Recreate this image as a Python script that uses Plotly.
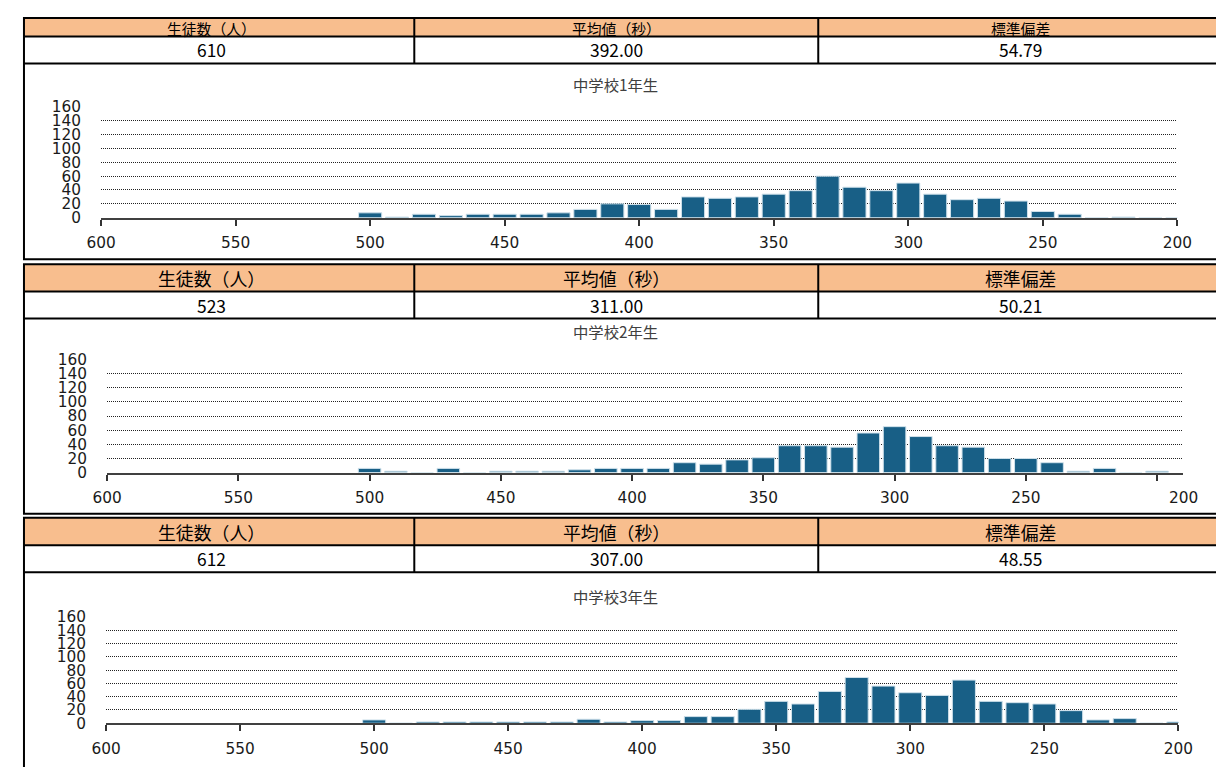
import plotly.graph_objects as go

W, H = 1224, 767
# the photographed page shows the figure slightly scaled and offset; positions below are
# measured on the reference picture and mapped back into figure pixels
S = 0.978
BX, BY = 20.7, 16.0

# ---------------- data ----------------
bins = [500, 490, 480, 470, 460, 450, 440, 430, 420, 410, 400, 390, 380, 370, 360,
        350, 340, 330, 320, 310, 300, 290, 280, 270, 260, 250, 240, 230, 220, 210, 200]
grade1 = [7, 1, 5, 3, 5, 5, 5, 7, 12, 20, 19, 12, 30, 28, 30,
          34, 39, 60, 44, 39, 50, 34, 26, 28, 24, 9, 5, 0, 1, 0, 0]
grade2 = [6, 2, 0, 6, 0, 2, 2, 2, 4, 6, 6, 6, 14, 12, 18,
          21, 38, 38, 36, 56, 65, 51, 38, 36, 20, 20, 14, 2, 6, 0, 2]
grade3 = [5, 0, 2, 2, 2, 2, 2, 2, 6, 2, 4, 4, 10, 10, 21,
          33, 29, 48, 69, 56, 46, 42, 65, 33, 31, 29, 19, 5, 7, 0, 2]
titles = ["中学校1年生", "中学校2年生", "中学校3年生"]
header_labels = ["生徒数（人）", "平均値（秒）", "標準偏差"]
students = ["610", "523", "612"]
means = ["392.00", "311.00", "307.00"]
stdevs = ["54.79", "50.21", "48.55"]
x_ticks = [600, 550, 500, 450, 400, 350, 300, 250, 200]
y_ticks = [0, 20, 40, 60, 80, 100, 120, 140, 160]

series = [grade1, grade2, grade3]

# ---------------- geometry (reference pixels) ----------------
panels = [
    dict(top=8.5, hdr=35.5, val=62.5, bottom=258.5, px0=99, px1=1178, y0=217, y160=106, xr=[600, 200],
         title_y=83, hdr_text=27.5, hdr_size=14.5),
    dict(top=263.5, hdr=291, val=318, bottom=513.5, px0=105, px1=1184, y0=472.3, y160=359, xr=[600, 190],
         title_y=330, hdr_text=277.5, hdr_size=17.5),
    dict(top=517.5, hdr=545, val=572, bottom=800, px0=104, px1=1179, y0=723.3, y160=617, xr=[600, 200],
         title_y=596, hdr_text=531.5, hdr_size=17.5),
]
col_x = [7.5, 413, 818, 1240]
col_c = [210, 615.5, 1021]

BAR = "#185F86"
HDR_FILL = "#F8BE8E"
FS = 1 / S
TICKFONT = dict(family="DejaVu Sans", size=15 * FS, color="#1a1a1a")
CJK = "Noto Sans CJK JP"


def fx(x):
    f = (x - BX) / S
    return max(f, 1.0) / W


def fy(y):
    f = (y - BY) / S
    return 1 - max(f, 1.0) / H


fig = go.Figure()
shapes = []
annotations = []

for i, (p, vals) in enumerate(zip(panels, series)):
    n = "" if i == 0 else str(i + 1)
    fig.add_trace(go.Bar(
        x=bins, y=vals, xaxis="x" + n, yaxis="y" + n,
        marker=dict(color=BAR, line=dict(color="#CFE1EB", width=1)),
        showlegend=False, hoverinfo="x+y",
    ))
    tt = [str(v) for v in x_ticks]
    if p["xr"][1] == 190:
        tt = tt[:-1] + [""]
        annotations.append(dict(x=190, y=0, xref="x" + n, yref="y" + n, text="200",
                                showarrow=False, yanchor="top", xanchor="center",
                                yshift=-14, font=TICKFONT))
    fig.layout["xaxis" + n] = dict(
        domain=[fx(p["px0"]), fx(p["px1"])], range=p["xr"], anchor="y" + n,
        tickmode="array", tickvals=x_ticks, ticktext=tt,
        ticks="outside", ticklen=6, tickwidth=1.5, tickcolor="#333",
        showline=True, linecolor="#404040", linewidth=2,
        showgrid=False, zeroline=False, tickfont=TICKFONT,
        ticklabelstandoff=4, fixedrange=True,
    )
    fig.layout["yaxis" + n] = dict(
        domain=[fy(p["y0"]), fy(p["y160"])], range=[0, 160], anchor="x" + n,
        tickmode="array", tickvals=y_ticks,
        showgrid=True, gridcolor="#222", gridwidth=1, griddash="1px,1px",
        showline=False, zeroline=False, ticks="", tickfont=TICKFONT,
        ticklabelstandoff=19, fixedrange=True,
    )

    shapes.append(dict(type="rect", xref="paper", yref="paper",
                       x0=fx(col_x[0]), x1=fx(col_x[-1]), y0=fy(p["hdr"]), y1=fy(p["top"]),
                       fillcolor=HDR_FILL, line=dict(width=0), layer="below"))
    shapes.append(dict(type="rect", xref="paper", yref="paper",
                       x0=fx(col_x[0]), x1=fx(col_x[-1]), y0=fy(p["bottom"]), y1=fy(p["top"]),
                       line=dict(color="black", width=2), fillcolor="rgba(0,0,0,0)"))
    for yy in (p["hdr"], p["val"]):
        shapes.append(dict(type="line", xref="paper", yref="paper",
                           x0=fx(col_x[0]), x1=fx(col_x[-1]), y0=fy(yy), y1=fy(yy),
                           line=dict(color="black", width=2)))
    for xx in col_x[1:-1]:
        shapes.append(dict(type="line", xref="paper", yref="paper",
                           x0=fx(xx), x1=fx(xx), y0=fy(p["val"]), y1=fy(p["top"]),
                           line=dict(color="black", width=2)))
    row_vals = [students[i], means[i], stdevs[i]]
    for c in range(3):
        annotations.append(dict(x=fx(col_c[c]), y=fy(p["hdr_text"]), xref="paper", yref="paper",
                                text=header_labels[c], showarrow=False, xanchor="center", yanchor="middle",
                                font=dict(family=CJK, size=p["hdr_size"] * FS, color="black")))
        annotations.append(dict(x=fx(col_c[c]), y=fy((p["hdr"] + p["val"]) / 2), xref="paper", yref="paper",
                                text=row_vals[c], showarrow=False, xanchor="center", yanchor="middle",
                                font=dict(family=CJK, size=17 * FS, color="black")))
    annotations.append(dict(x=fx(615), y=fy(p["title_y"]), xref="paper", yref="paper",
                            text=titles[i], showarrow=False, xanchor="center", yanchor="middle",
                            font=dict(family=CJK, size=15 * FS, color="#404040")))

fig.update_layout(
    width=W, height=H, autosize=False,
    margin=dict(l=0, r=0, t=0, b=0),
    paper_bgcolor="white", plot_bgcolor="white",
    bargap=0.14, shapes=shapes, annotations=annotations,
    showlegend=False,
)

fig.write_html("out.html", config={"displayModeBar": False})
